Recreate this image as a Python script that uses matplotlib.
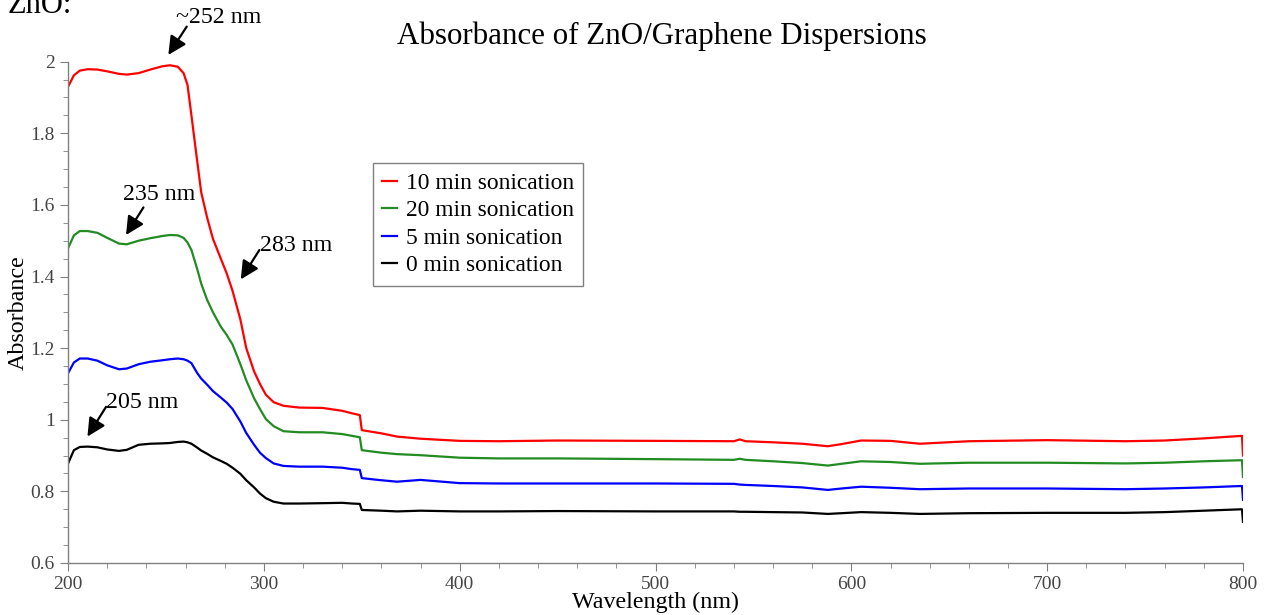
import matplotlib
matplotlib.use("Agg")
import matplotlib.pyplot as plt
from matplotlib.ticker import MultipleLocator, FormatStrFormatter

plt.rcParams['font.family'] = ['Liberation Serif', 'DejaVu Serif']

# --- DATA ---
wavelength = [200, 203, 206, 210, 215, 220, 226, 230, 236, 242,
              248, 252, 256, 259, 261, 263, 266, 268, 271, 274,
              278, 281, 284, 288, 291, 295, 298, 301, 305, 310,
              318, 330, 340, 345, 349, 350, 360, 368, 380, 400,
              420, 450, 500, 540, 543, 546, 560, 575, 588, 595,
              605, 620, 635, 660, 700, 740, 760, 780, 799.5, 800]

abs_10min = [1.930, 1.962, 1.975, 1.979, 1.978, 1.973, 1.966, 1.964, 1.968, 1.978,
             1.987, 1.990, 1.986, 1.968, 1.935, 1.850, 1.720, 1.635, 1.565, 1.505,
             1.450, 1.409, 1.360, 1.280, 1.200, 1.135, 1.100, 1.070, 1.049, 1.039,
             1.034, 1.033, 1.025, 1.018, 1.013, 0.971, 0.962, 0.953, 0.947, 0.941,
             0.940, 0.942, 0.941, 0.940, 0.945, 0.940, 0.937, 0.933, 0.926, 0.932,
             0.942, 0.941, 0.933, 0.940, 0.943, 0.940, 0.942, 0.948, 0.955, 0.900]

abs_20min = [1.479, 1.515, 1.527, 1.527, 1.522, 1.508, 1.492, 1.490, 1.500, 1.507,
             1.513, 1.516, 1.515, 1.508, 1.495, 1.474, 1.420, 1.380, 1.335, 1.300,
             1.260, 1.237, 1.210, 1.155, 1.110, 1.060, 1.030, 1.002, 0.982, 0.968,
             0.965, 0.965, 0.960, 0.955, 0.951, 0.915, 0.908, 0.904, 0.901, 0.894,
             0.892, 0.892, 0.890, 0.888, 0.891, 0.888, 0.884, 0.879, 0.872, 0.877,
             0.884, 0.882, 0.877, 0.880, 0.880, 0.878, 0.880, 0.884, 0.887, 0.840]

abs_5min = [1.130, 1.160, 1.171, 1.171, 1.165, 1.152, 1.141, 1.143, 1.155, 1.162,
            1.166, 1.169, 1.171, 1.169, 1.165, 1.158, 1.130, 1.115, 1.098, 1.080,
            1.062, 1.048, 1.030, 0.995, 0.963, 0.930, 0.908, 0.893, 0.878, 0.871,
            0.869, 0.869, 0.866, 0.862, 0.860, 0.837, 0.831, 0.827, 0.832, 0.823,
            0.822, 0.822, 0.822, 0.821, 0.819, 0.818, 0.815, 0.811, 0.804, 0.808,
            0.813, 0.810, 0.806, 0.808, 0.808, 0.806, 0.808, 0.811, 0.815, 0.776]

abs_0min = [0.878, 0.915, 0.924, 0.925, 0.923, 0.917, 0.913, 0.916, 0.930, 0.933,
            0.934, 0.935, 0.938, 0.939, 0.937, 0.933, 0.922, 0.914, 0.905, 0.895,
            0.885, 0.877, 0.866, 0.849, 0.831, 0.811, 0.794, 0.781, 0.771, 0.766,
            0.766, 0.767, 0.768, 0.766, 0.765, 0.748, 0.746, 0.744, 0.746, 0.744,
            0.744, 0.745, 0.744, 0.744, 0.743, 0.743, 0.742, 0.741, 0.737, 0.739,
            0.742, 0.740, 0.737, 0.739, 0.740, 0.740, 0.742, 0.746, 0.750, 0.715]

series_labels = ["10 min sonication", "20 min sonication", "5 min sonication", "0 min sonication"]
series_colors = ["#ff0000", "#228b22", "#0000ff", "#000000"]

# peak annotations: label, arrow tip, arrow tail, text anchor (data coords)
peak_labels = ["~252 nm", "235 nm", "283 nm", "205 nm"]
peak_tips = [(251.2, 2.019), (229.6, 1.516), (288.2, 1.392), (209.9, 0.953)]
peak_tails = [(260.6, 2.098), (238.5, 1.593), (297.7, 1.474), (219.4, 1.036)]
peak_text = [(255.2, 2.109), (228.2, 1.614), (298.1, 1.472), (219.4, 1.034)]

# --- PLOT ---
fig = plt.figure(figsize=(12.65, 6.15), dpi=100)
ax = fig.add_axes([0.0538, 0.0846, 0.9288, 0.8151])

for vals, lab, col in zip([abs_10min, abs_20min, abs_5min, abs_0min], series_labels, series_colors):
    ax.plot(wavelength, vals, color=col, lw=1.6, label=lab)

ax.set_xlim(200, 800)
ax.set_ylim(0.6, 2.0)
ax.xaxis.set_major_locator(MultipleLocator(100))
ax.xaxis.set_minor_locator(MultipleLocator(20))
ax.yaxis.set_major_locator(MultipleLocator(0.2))
ax.yaxis.set_minor_locator(MultipleLocator(0.05))
ax.yaxis.set_major_formatter(FormatStrFormatter('%g'))

for side in ['top', 'right']:
    ax.spines[side].set_visible(False)
for side in ['left', 'bottom']:
    ax.spines[side].set_color('#808080')
    ax.spines[side].set_linewidth(1.0)
ax.tick_params(which='major', length=6, color='#808080', labelsize=14, labelcolor='#454545')
ax.tick_params(which='minor', length=3.5, color='#808080')

ax.set_xlabel("Wavelength (nm)", fontsize=17.3, labelpad=-1)
ax.set_ylabel("Absorbance", fontsize=17.3, labelpad=1)
ax.set_title("Absorbance of ZnO/Graphene Dispersions", fontsize=22.3, pad=13, x=0.505)

for lab, tip, tail, pos in zip(peak_labels, peak_tips, peak_tails, peak_text):
    ax.annotate('', xy=tip, xytext=tail, annotation_clip=False,
                arrowprops=dict(arrowstyle='-|>,head_length=1.1,head_width=0.55',
                                color='black', lw=1.6, shrinkA=0, shrinkB=0))
    ax.text(pos[0], pos[1], lab, fontsize=17.2, ha='left', va='baseline', clip_on=False)

leg = ax.legend(loc='upper left', bbox_to_anchor=(0.2596, 0.798), borderaxespad=0,
                fontsize=16.9, frameon=True, fancybox=False, framealpha=1,
                handlelength=0.6, handletextpad=0.4, labelspacing=0.26, borderpad=0.4)
leg.get_frame().set_edgecolor('#808080')
leg.get_frame().set_linewidth(1.0)

# cut-off text from the surrounding document
fig.text(8 / 1265, 1 - 13 / 615, "ZnO:", fontsize=22, ha='left', va='baseline')

plt.savefig("out.png", dpi=100)
plt.close()
